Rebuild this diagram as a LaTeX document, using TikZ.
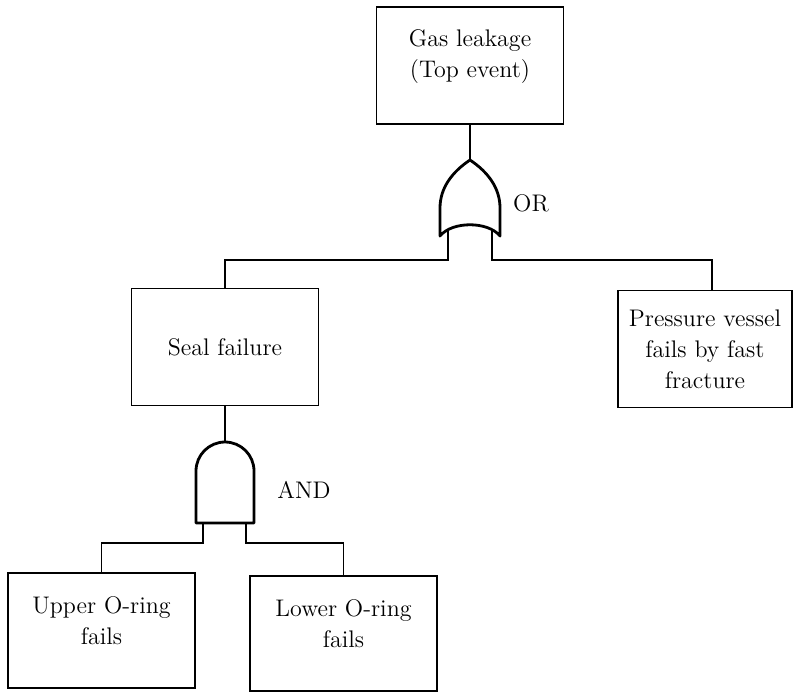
\documentclass[tikz,border=0pt]{standalone}
\usetikzlibrary{positioning}

\begin{document}
\begin{tikzpicture}[x=0.5pt,y=-0.5pt,
        event/.style = {draw, rectangle, line width=0.9pt, align=center, inner xsep=1pt, minimum width=93.5pt, minimum height=58.5pt, font=\fontsize{12}{15.5}\selectfont},
        gate/.style = {draw, line width=1.4pt, line join=round},
        wire/.style = {draw, line width=0.6pt},
        glabel/.style = {font=\fontsize{12}{15.5}\selectfont}]
        \useasboundingbox (0,0) rectangle (795,693);
        % events
        \node[event, text depth=12pt] (top) at (470,65.5) {Gas leakage\\(Top event)};
        \node[event] (seal) at (225,347) {Seal failure};
        \node[event, minimum width=87pt] (press) at (705,349) {Pressure vessel\\fails by fast\\fracture};
        \node[event, minimum height=57.5pt, text depth=10pt] (upper) at (101.5,630.5) {Upper O-ring\\fails};
        \node[event, minimum height=57.5pt, text depth=10pt] (lower) at (343.5,633.5) {Lower O-ring\\fails};
        % OR gate
        \coordinate (orT) at (470,160);
        \coordinate (orL) at (448,230);
        \coordinate (orR) at (492,230);
        \draw[gate] (orT) .. controls (452,172) and (440,188) .. (440,208) -- (440,236)
                .. controls (452,221) and (488,221) .. (500,236) -- (500,208)
                .. controls (500,188) and (488,172) .. (orT);
        \node[glabel] (orlbl) at (531,203) {OR};
        % AND gate
        \coordinate (andT) at (225,442);
        \coordinate (andL) at (203,523);
        \coordinate (andR) at (246,523);
        \draw[gate] (196,523) -- (196,471) arc[start angle=180, end angle=360, radius=29] -- (254,523) -- cycle;
        \node[glabel] (andlbl) at (304,490) {AND};
        % connectors
        \draw[wire] (top) -- (orT);
        \draw[wire] (orL) -- ++(0,30) -| (seal);
        \draw[wire] (orR) -- ++(0,30) -| ([xshift=3.5pt]press.north);
        \draw[wire] (seal) -- (andT);
        \draw[wire] (andL) -- ++(0,20) -| (upper);
        \draw[wire] (andR) -- ++(0,20) -| (lower);
\end{tikzpicture}
\end{document}
